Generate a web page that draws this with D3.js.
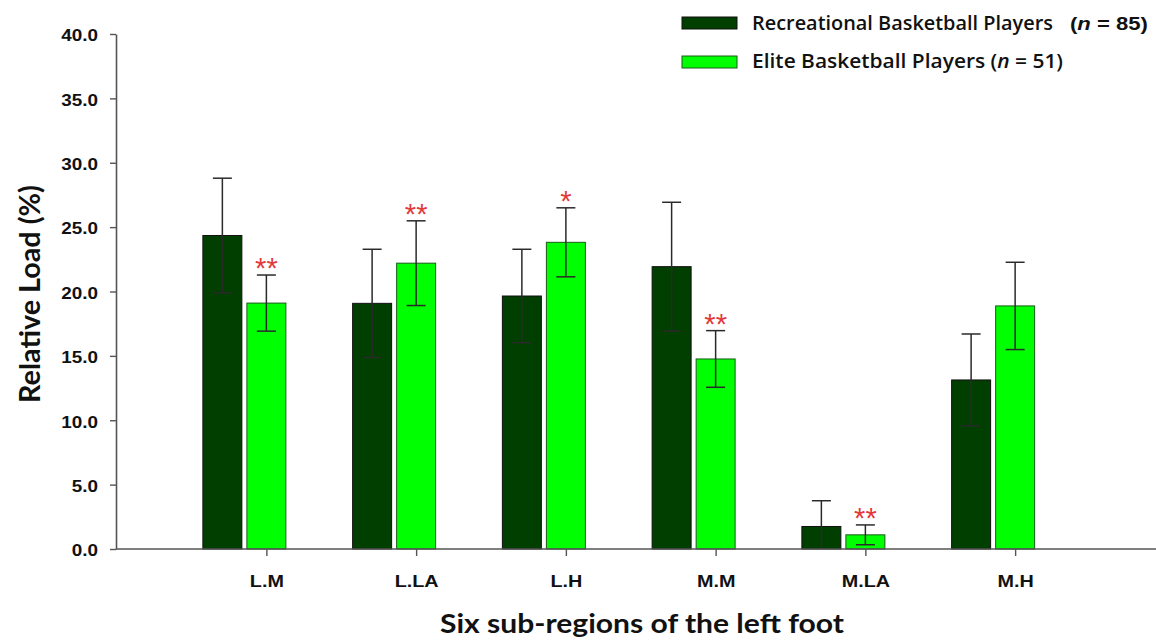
<!DOCTYPE html>
<html>
<head>
<meta charset="utf-8">
<script src="https://cdn.jsdelivr.net/npm/d3@7"></script>
<style>
  html, body { margin: 0; padding: 0; background: #fff; }
  svg { display: block; }
</style>
</head>
<body>
<svg id="chart" width="1156" height="640"></svg>
<script>
// Relative plantar load in six sub-regions of the left foot
const regions = ["L.M", "L.LA", "L.H", "M.M", "M.LA", "M.H"];
const seriesNames = ["Recreational", "Elite"];
const recreationalMean = [24.35, 19.08, 19.65, 21.93, 1.75, 13.13];
const recreationalSD   = [4.45, 4.20, 3.63, 5.00, 2.00, 3.57];
const eliteMean        = [19.10, 22.20, 23.82, 14.76, 1.10, 18.88];
const eliteSD          = [2.18, 3.29, 2.68, 2.20, 0.77, 3.39];
const eliteSignificance = ["**", "**", "*", "**", "**", ""];
const yTickValues = [0, 5, 10, 15, 20, 25, 30, 35, 40];

const colors = { Recreational: "#003f00", Elite: "#00ff00" };
const sans = "'Liberation Sans', Arial, sans-serif";
const humanist = "Lato, 'Open Sans', sans-serif";
const legendFont = "'Open Sans', Lato, sans-serif";

const svg = d3.select("#chart");

const y = d3.scaleLinear().domain([0, 40]).range([549, 34]);
const x = d3.scaleBand().domain(regions).range([191.5, 1090]);
const xSub = d3.scaleBand().domain(seriesNames).range([-63.5, 19.5]).paddingInner(0.114);
const tickX = d => x(d) + x.bandwidth() / 2;

const rows = regions.map((r, i) => ({
  region: r,
  bars: [
    { series: "Recreational", mean: recreationalMean[i], sd: recreationalSD[i], mark: "" },
    { series: "Elite", mean: eliteMean[i], sd: eliteSD[i], mark: eliteSignificance[i] }
  ]
}));

// Bars
const groups = svg.append("g").selectAll("g")
  .data(rows).join("g")
  .attr("transform", d => `translate(${tickX(d.region)},0)`);

groups.selectAll("rect")
  .data(d => d.bars).join("rect")
  .attr("x", d => xSub(d.series))
  .attr("width", xSub.bandwidth())
  .attr("y", d => y(d.mean))
  .attr("height", d => y(0) - y(d.mean))
  .attr("fill", d => colors[d.series])
  .attr("stroke", d => d.series === "Elite" ? "#1a5a1a" : "#111")
  .attr("stroke-width", 1);

// Error bars (mean ± SD, clipped at zero)
const capHalf = 9.5;
const err = groups.selectAll("g.err")
  .data(d => d.bars).join("g").attr("class", "err")
  .attr("stroke", "#2a2a2a").attr("stroke-width", 1.5);
err.append("line")
  .attr("x1", d => xSub(d.series) + xSub.bandwidth() / 2)
  .attr("x2", d => xSub(d.series) + xSub.bandwidth() / 2)
  .attr("y1", d => y(d.mean + d.sd))
  .attr("y2", d => y(Math.max(0, d.mean - d.sd)));
err.append("line")
  .attr("x1", d => xSub(d.series) + xSub.bandwidth() / 2 - capHalf)
  .attr("x2", d => xSub(d.series) + xSub.bandwidth() / 2 + capHalf)
  .attr("y1", d => y(d.mean + d.sd))
  .attr("y2", d => y(d.mean + d.sd));
err.filter(d => d.mean - d.sd > 0).append("line")
  .attr("x1", d => xSub(d.series) + xSub.bandwidth() / 2 - capHalf)
  .attr("x2", d => xSub(d.series) + xSub.bandwidth() / 2 + capHalf)
  .attr("y1", d => y(d.mean - d.sd))
  .attr("y2", d => y(d.mean - d.sd));

// Significance asterisks
groups.selectAll("text.sig")
  .data(d => d.bars.filter(b => b.mark)).join("text").attr("class", "sig")
  .attr("x", d => xSub(d.series) + xSub.bandwidth() / 2)
  .attr("y", d => y(d.mean + d.sd) + 3)
  .attr("text-anchor", "middle")
  .attr("font-family", sans)
  .attr("font-size", 29)
  .attr("fill", "#e23a3a")
  .text(d => d.mark);

// Y axis
const yAxis = svg.append("g")
  .attr("transform", "translate(116,0)")
  .call(d3.axisLeft(y).tickValues(yTickValues).tickFormat(d3.format(".1f")).tickSize(6).tickSizeOuter(0));
yAxis.select(".domain").attr("stroke", "#555").attr("stroke-width", 1.6);
yAxis.selectAll(".tick line").attr("stroke", "#555").attr("stroke-width", 1.4);
yAxis.selectAll(".tick text")
  .attr("x", null).attr("dy", "0.36em")
  .attr("transform", "translate(-18,1) scale(1.18,1)")
  .attr("text-anchor", "end")
  .attr("font-family", sans).attr("font-weight", "bold").attr("font-size", 16)
  .attr("fill", "#111");

// X axis
const xAxis = svg.append("g")
  .attr("transform", `translate(0,${y(0)})`)
  .call(d3.axisBottom(d3.scalePoint().domain(regions).range([tickX(regions[0]), tickX(regions[regions.length - 1])]))
    .tickSize(7).tickSizeOuter(0));
xAxis.select(".domain").remove();
xAxis.append("line").attr("x1", 116).attr("x2", 1156).attr("stroke", "#555").attr("stroke-width", 1.6);
xAxis.selectAll(".tick line").attr("stroke", "#555").attr("stroke-width", 1.4);
xAxis.selectAll(".tick text")
  .attr("y", null).attr("dy", null)
  .attr("transform", "translate(0,38) scale(1.2,1)")
  .attr("font-family", sans).attr("font-weight", "bold").attr("font-size", 16.5)
  .attr("fill", "#111");

// Axis titles
svg.append("text")
  .attr("transform", "translate(40,294) rotate(-90)")
  .attr("text-anchor", "middle")
  .attr("font-family", humanist).attr("font-weight", "bold").attr("font-size", 28)
  .attr("textLength", 218).attr("lengthAdjust", "spacingAndGlyphs")
  .attr("fill", "#111")
  .text("Relative Load (%)");

svg.append("text")
  .attr("x", 642).attr("y", 633)
  .attr("text-anchor", "middle")
  .attr("font-family", humanist).attr("font-weight", "bold").attr("font-size", 27)
  .attr("textLength", 404).attr("lengthAdjust", "spacingAndGlyphs")
  .attr("fill", "#111")
  .text("Six sub-regions of the left foot");

// Legend
const legend = svg.append("g");
legend.append("rect").attr("x", 682).attr("y", 17).attr("width", 55).attr("height", 12)
  .attr("fill", colors.Recreational).attr("stroke", "#111");
legend.append("rect").attr("x", 682).attr("y", 56).attr("width", 55).attr("height", 12)
  .attr("fill", colors.Elite).attr("stroke", "#1a5a1a");

legend.append("text")
  .attr("x", 752).attr("y", 30)
  .attr("font-family", legendFont).attr("font-size", 19).attr("font-weight", 600)
  .attr("textLength", 301).attr("lengthAdjust", "spacingAndGlyphs")
  .attr("fill", "#111")
  .text("Recreational Basketball Players");
const n1 = legend.append("text")
  .attr("x", 1070).attr("y", 30)
  .attr("font-family", sans).attr("font-weight", "bold").attr("font-size", 17.5)
  .attr("textLength", 78).attr("lengthAdjust", "spacingAndGlyphs")
  .attr("fill", "#111");
n1.append("tspan").text("(");
n1.append("tspan").attr("font-style", "italic").text("n");
n1.append("tspan").text(" = 85)");

const l2 = legend.append("text")
  .attr("x", 752).attr("y", 68)
  .attr("font-family", legendFont).attr("font-size", 19).attr("font-weight", 600)
  .attr("textLength", 311).attr("lengthAdjust", "spacingAndGlyphs")
  .attr("fill", "#111");
l2.append("tspan").text("Elite Basketball Players (");
l2.append("tspan").attr("font-style", "italic").text("n");
l2.append("tspan").text(" = 51)");
</script>
</body>
</html>
